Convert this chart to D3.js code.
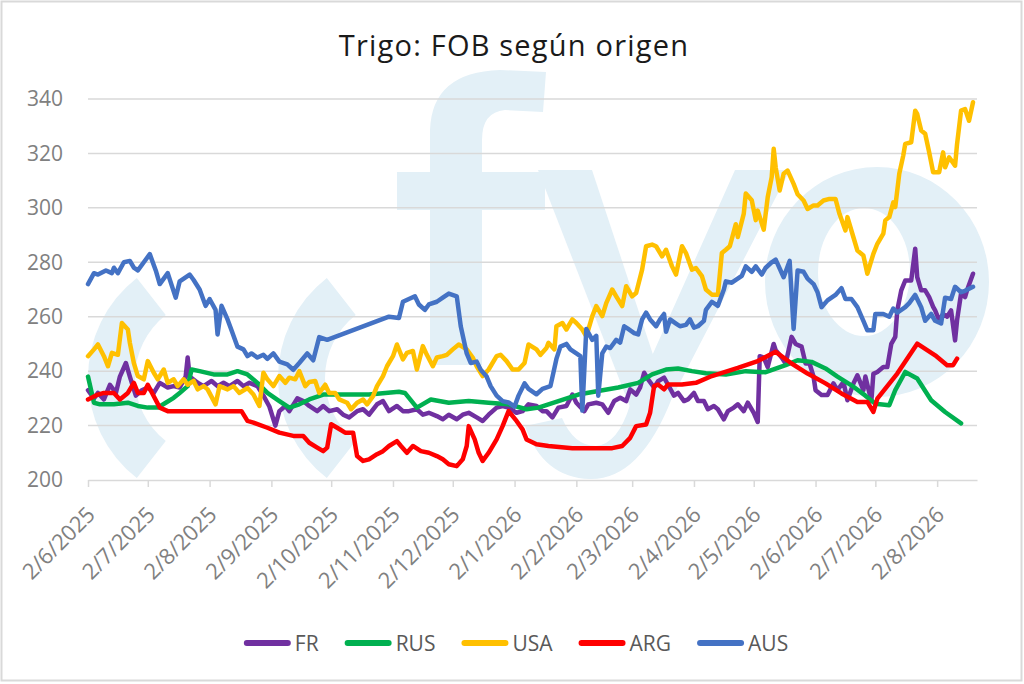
<!DOCTYPE html>
<html>
<head>
<meta charset="utf-8">
<script src="https://cdn.jsdelivr.net/npm/d3@7"></script>
<style>
  body { margin: 0; background: #fff; }
  svg { display: block; font-family: 'Open Sans', sans-serif; }
</style>
</head>
<body>
<div id="chart"></div>
<script>
// values: [days since 2/6/2025, USD/t]
const startDate = '2/6/2025';
const lastDay = 446;
const yTicks = [200, 220, 240, 260, 280, 300, 320, 340];
const xTickLabels = ['2/6/2025', '2/7/2025', '2/8/2025', '2/9/2025', '2/10/2025', '2/11/2025', '2/12/2025',
  '2/1/2026', '2/2/2026', '2/3/2026', '2/4/2026', '2/5/2026', '2/6/2026', '2/7/2026', '2/8/2026'];
const seriesNames = ['FR', 'RUS', 'USA', 'ARG', 'AUS'];

const frData = [[0,233],[3,230],[5,232],[8,229.6],[11,235],[14,232],[16,238],[19,243],[21,238],[24,231],[27,233],
  [30,234],[33,232],[36,235.7],[40,234],[43,234.5],[46,234],[49,238],[50,245],[51,238],[55,235.7],[58,234.5],
  [62,236.4],[65,234.5],[68,235.7],[71,234.5],[75,236.4],[78,234.5],[81,235.7],[85,234.5],[88,231],[91,227],
  [94,220],[96,225.3],[99,227.2],[101,225.3],[105,230],[108,229],[111,227.2],[115,225.3],[118,227.2],[121,225.3],
  [125,226],[128,224],[131,223],[135,225.3],[138,226],[141,224],[145,227.8],[148,229],[151,225.3],[155,227.2],
  [158,225.3],[161,225.3],[165,226],[168,224],[171,224.7],[175,223.5],[178,222.3],[181,224],[185,222.3],[188,224],
  [191,224.7],[195,223],[198,221.7],[201,224],[205,226.6],[208,227.2],[211,226.6],[215,224.7],[218,225.3],
  [221,227.8],[225,227.2],[228,225.3],[230,225.3],[233,223],[236,226.6],[240,227.2],[243,231.4],[245,228.4],
  [249,225.3],[251,227.8],[255,228.4],[258,227.8],[261,224.7],[264,229],[267,230.2],[270,229],[272,233.3],
  [275,231.4],[277,234],[279,239.4],[281,237],[284,234],[286,236.3],[289,237.6],[291,235],[294,231],[296,232],
  [299,229],[301,229.6],[304,232],[306,229],[309,229],[311,226],[314,227.2],[316,226],[319,222.3],[321,225.3],
  [324,226.6],[326,227.8],[329,225.3],[331,228.4],[334,224.7],[336,221.3],[337,245.5],[339,245],[341,241.5],
  [344,250],[345,247.7],[348,245],[350,242.8],[353,252.6],[355,250],[358,249],[360,242.8],[362,242.8],[364,238],
  [365,233],[368,231.2],[371,231.2],[374,235.5],[376,233],[379,236],[381,229.3],[384,235.5],[386,238.5],[389,233],
  [390,238],[393,229],[394,239],[396,239.7],[399,241.5],[401,241.5],[403,250],[405,252.6],[406,262.3],[408,269.7],
  [410,273.3],[413,273.3],[415,285],[416,274.6],[418,269.7],[420,269.7],[422,267.2],[424,263.6],[425,262.3],
  [427,258.7],[429,261],[431,260],[433,262.3],[435,251.3],[436,258.7],[438,268.5],[440,267.2],[441,269.7],[444,275.8]];

const rusData = [[0,238],[3,228.4],[6,227.8],[13,227.8],[20,228.4],[25,227.2],[30,226.6],[35,226.6],[39,228.4],
  [43,230.2],[46,232],[50,234.5],[52,240.6],[56,240],[63,238.8],[70,238.8],[75,240],[80,238.8],[85,235.7],[90,232],
  [96,229],[101,226.6],[106,227.8],[111,229.6],[118,231.4],[128,231.4],[141,231.4],[156,232.4],[159,232],
  [165,226.6],[172,229.6],[181,228.4],[191,229],[201,228.4],[211,227.8],[220,226],[226,226.6],[236,229],
  [246,231.4],[256,232.7],[266,234],[276,235.7],[283,238.8],[290,240.6],[296,241],[303,240],[310,239.2],
  [320,238.8],[330,240],[340,239.6],[350,242.2],[356,244],[363,243.4],[370,241],[376,238],[383,234.8],[390,231],
  [395,228],[402,227.5],[405,233],[410,239.7],[416,237.3],[423,229.3],[430,225],[438,220.8]];

const usaData = [[0,245.5],[3,248],[5,249.8],[8,245.5],[10,241.8],[12,246.7],[15,246],[17,257.7],[20,255.3],
  [21,250.4],[23,243],[25,238.2],[28,237],[30,243.7],[33,239.4],[35,237],[38,240.6],[40,235.7],[43,237],[45,234.5],
  [48,237],[50,235],[53,236.4],[55,233.3],[58,234.5],[60,233.3],[64,227.8],[66,234.5],[70,233.3],[73,234.5],
  [76,232],[80,233.8],[83,231.4],[86,227.2],[88,239.4],[90,237],[93,234.5],[96,238.2],[99,235.7],[101,237.6],
  [104,237],[106,240],[109,234.5],[111,236],[114,236.4],[116,232],[119,235],[121,232],[124,232],[126,229.6],
  [130,228.4],[132,226],[135,228.4],[138,229.6],[140,227.8],[143,230.8],[145,234.5],[148,238.2],[150,241.8],
  [153,245.5],[155,249.8],[158,244.3],[160,246.7],[163,247.4],[165,240.6],[168,249.2],[170,246],[173,241.8],
  [175,245],[178,245.5],[180,246],[183,248],[186,249.8],[190,248],[193,245],[195,241.8],[198,238.2],[201,240.6],
  [205,245.5],[207,246],[210,243.7],[213,240.6],[216,240.6],[219,243],[221,249.8],[225,248],[227,246],[230,248.5],
  [231,250.4],[234,248],[235,256.5],[238,257.7],[240,255.3],[243,259],[245,257.7],[248,255.3],[250,252.8],
  [253,260.2],[255,263.9],[258,260.2],[260,265],[263,270],[265,267.5],[268,263.9],[270,271.2],[273,267.5],
  [275,268.7],[278,277.3],[280,285.9],[283,286.5],[285,285.9],[288,282.2],[290,284.6],[293,278.5],[295,275.5],
  [298,285.9],[300,283.4],[303,277.3],[305,277.9],[308,274.9],[310,270],[313,268.1],[316,268.1],[318,283.4],
  [320,284.6],[322,285.9],[325,294],[326,289.3],[329,297.9],[330,305.3],[333,302.8],[335,295.5],[336,299],
  [339,292],[341,303.9],[343,311.3],[344,321.7],[345,314.9],[347,306.4],[349,312.5],[351,313.7],[354,308.8],
  [356,305],[359,302.7],[361,299.6],[364,300.9],[366,300.9],[369,302.7],[372,303.3],[375,303.3],[377,297.8],
  [380,291.7],[381,296.6],[384,289.2],[386,284.3],[389,282.5],[391,275.8],[394,283.1],[396,286.8],[399,290.5],
  [400,295.4],[402,296.6],[404,302],[405,300.3],[407,312.5],[409,319.2],[410,323.5],[413,324.1],[415,335.7],
  [416,334.5],[418,328.4],[420,327.2],[422,320.4],[424,313.1],[427,313.1],[429,320.4],[430,314.9],[432,318.6],
  [435,315.5],[436,323.5],[438,335.7],[440,336.3],[442,332],[444,338.8]];

const argData = [[0,229.6],[5,231.4],[8,232],[13,232],[16,229.6],[20,232],[23,235.7],[25,232],[28,232],[30,235],
  [33,230.8],[36,226.6],[40,225.3],[77,225.3],[80,221.7],[83,221.1],[90,219.2],[96,217.4],[103,216.2],[108,216.2],
  [111,213.7],[115,211.9],[118,210.6],[120,211.9],[122,220.5],[125,219.2],[129,217.4],[133,217.4],[135,208.8],
  [138,207],[141,207.6],[145,209.5],[148,210.6],[151,212.5],[155,214.3],[157,212.5],[160,210],[163,212.5],
  [167,210.6],[171,210],[175,208.8],[178,207.6],[181,205.8],[185,205.1],[188,207.6],[190,212.5],[191,219.8],
  [194,214.9],[196,210],[198,207],[201,210],[205,214.9],[208,219.8],[211,225.3],[215,221.7],[218,218.6],
  [220,214.9],[225,213.1],[231,212.5],[243,211.7],[263,211.7],[268,212.5],[272,215.5],[275,219.8],[280,220.4],
  [282,224.7],[284,234.5],[286,235.1],[289,233.3],[291,235.1],[298,235.1],[305,235.7],[313,238.2],[326,241.2],
  [336,243.7],[345,247.1],[353,242.8],[361,239.1],[370,235.5],[378,231.8],[386,228.7],[391,228.7],[394,225],
  [396,229.9],[406,239.1],[416,250.1],[425,245.8],[431,242.2],[434,242.2],[436,244.6]];

const ausData = [[0,272],[3,276],[5,275.5],[9,277],[12,276],[13,278],[15,276],[18,280],[21,280.5],[23,278],
  [25,277],[28,280],[31,283],[34,277],[36,272],[40,276],[44,267],[46,273],[51,275.5],[53,273.5],[56,270],[59,264],
  [61,266.5],[64,262.5],[65,253.5],[67,264],[70,259],[72,255],[75,249],[78,248],[80,245.5],[82,246.5],[85,245],
  [88,246],[90,244.5],[93,246.5],[96,243.5],[100,242.5],[103,240.5],[106,243],[110,246.5],[113,244],[116,252.5],
  [120,251.5],[151,260],[156,259.5],[158,265.5],[161,266.5],[164,267.5],[166,264.5],[169,262.5],[171,264.5],
  [175,265.5],[178,267],[181,268.5],[185,267.5],[187,256.5],[190,246.5],[192,243],[195,243.5],[197,240.5],
  [200,238],[202,234.5],[205,231],[208,229],[211,228.5],[214,227],[216,231],[219,235.5],[221,233.5],[225,231.5],
  [228,233.5],[232,234.5],[235,244.5],[237,249],[240,250],[242,248],[245,246.5],[247,245.5],[248,225.5],
  [250,255.5],[253,251.5],[255,253],[256,231],[258,246.5],[260,249],[262,248.5],[265,251.5],[267,250.5],
  [269,256.5],[271,255.5],[274,254],[276,253.5],[278,259],[280,261.5],[282,259],[285,256.5],[287,259],[289,261],
  [290,254.5],[292,259],[295,257.5],[297,256.5],[300,257],[302,259],[304,256],[306,256.5],[309,258.5],[310,262.5],
  [313,265.5],[316,264],[319,270],[320,273],[323,272.5],[325,273.5],[328,275],[330,278.5],[333,276.5],[335,278.5],
  [338,275.5],[340,278],[343,280],[345,281],[349,274.5],[352,280.5],[354,255.5],[356,277],[359,276.5],[361,274],
  [364,272],[366,269],[368,263.5],[371,266],[375,268],[378,270.5],[380,266.5],[383,266.5],[386,263.5],[389,258.5],
  [391,255],[394,255],[395,261],[399,261],[402,260],[404,263],[406,261.5],[410,263.5],[412,265],[415,268],
  [418,263.5],[420,258.5],[423,261],[425,258.5],[428,257.5],[430,267],[433,266.5],[435,271],[438,269],[440,269.5],
  [444,271]];

const allSeries = [frData, rusData, usaData, argData, ausData];
const seriesColors = ['#7030a0', '#00b050', '#ffc000', '#ff0000', '#4472c4'];

displayChart();

function displayChart() {
  const width = 1024;
  const height = 684;
  const plot = { left: 88, right: 977, top: 99, bottom: 480 };
  const parseDate = d3.timeParse('%d/%m/%Y');
  const start = parseDate(startDate);

  const svg = d3.select('#chart').append('svg')
      .attr('width', width)
      .attr('height', height);

  svg.append('rect')
      .attr('x', 1.5)
      .attr('y', 1.5)
      .attr('width', width - 4)
      .attr('height', height - 5)
      .attr('fill', '#fff')
      .attr('stroke', '#d9d9d9')
      .attr('stroke-width', 2);

  displayWatermark(svg);

  const xScale = d3.scaleTime([start, d3.timeDay.offset(start, lastDay)], [plot.left, plot.right]);
  const yScale = d3.scaleLinear([200, 340], [plot.bottom, plot.top]);

  // Title
  svg.append('text')
      .text('Trigo: FOB según origen')
      .attr('x', 514)
      .attr('y', 56)
      .style('text-anchor', 'middle')
      .style('font-size', '29px')
      .style('letter-spacing', '1.2px')
      .style('fill', '#1a1a1a');

  // Gridlines
  svg.append('g')
      .selectAll('line')
      .data(yTicks.slice(1))
      .join('line')
      .attr('x1', plot.left)
      .attr('x2', plot.right)
      .attr('y1', d => yScale(d))
      .attr('y2', d => yScale(d))
      .attr('stroke', '#d9d9d9')
      .attr('stroke-width', 1.5);

  // Y-axis
  const yAxis = d3.axisLeft(yScale).tickValues(yTicks).tickSize(0).tickPadding(25);
  const yg = svg.append('g')
      .attr('transform', `translate(${plot.left}, 0)`)
      .call(yAxis);
  yg.select('.domain').remove();
  yg.selectAll('text')
      .style('font-family', "'Open Sans', sans-serif")
      .style('font-size', '21px')
      .style('fill', '#808080');

  // X-axis
  const fmt = d3.timeFormat('%-d/%-m/%Y');
  const xAxis = d3.axisBottom(xScale)
      .tickValues(xTickLabels.map(parseDate))
      .tickFormat(fmt)
      .tickSizeInner(7)
      .tickSizeOuter(0);
  const xg = svg.append('g')
      .attr('transform', `translate(0, ${plot.bottom})`)
      .call(xAxis);
  xg.select('.domain').attr('stroke', '#d9d9d9').attr('stroke-width', 1.5);
  xg.selectAll('.tick line').attr('stroke', '#d9d9d9').attr('stroke-width', 1.5);
  xg.selectAll('text')
      .attr('x', 0)
      .attr('y', 0)
      .attr('dy', 0)
      .attr('transform', 'translate(8, 36) rotate(-45)')
      .style('text-anchor', 'end')
      .style('font-family', "'Open Sans', sans-serif")
      .style('font-size', '22px')
      .style('fill', '#808080');

  // Lines
  const line = d3.line()
      .x(d => xScale(d3.timeDay.offset(start, d[0])))
      .y(d => yScale(d[1]));

  svg.append('g')
      .selectAll('path')
      .data(allSeries)
      .join('path')
      .attr('d', d => line(d))
      .attr('fill', 'none')
      .attr('stroke', (d, i) => seriesColors[i])
      .attr('stroke-width', 4.5)
      .attr('stroke-linejoin', 'round')
      .attr('stroke-linecap', 'round');

  displayLegend(svg);
}

function displayWatermark(svg) {
  const g = svg.append('g').attr('fill', '#e3f0f7');
  const toRad = deg => deg * Math.PI / 180;
  const arc = d3.arc()
      .innerRadius(80)
      .outerRadius(127)
      .startAngle(toRad(-142))
      .endAngle(toRad(-38));
  // two "(" arcs
  g.append('path').attr('d', arc()).attr('transform', 'translate(215, 378)');
  g.append('path').attr('d', arc()).attr('transform', 'translate(405, 378)');
  // f
  g.append('path').attr('d', 'M430 365 L430 130 Q432 72 500 70 L546 72 L543 112 L505 110 Q482 112 482 140 L482 365 Z');
  g.append('rect').attr('x', 397).attr('y', 172).attr('width', 148).attr('height', 38);
  // y
  g.append('path').attr('d', 'M538 170 L592 170 L668 400 L632 412 Z');
  g.append('path').attr('d', 'M735 170 L790 170 L672 398 Q640 480 590 479 Q543 478 525 426 L562 418 Q574 446 596 446 Q618 444 630 405 Z');
  // o
  g.append('path')
      .attr('fill-rule', 'evenodd')
      .attr('d', 'M765 282 A112 115 0 1 0 989 282 A112 115 0 1 0 765 282 Z M818 272 A46 64 0 1 0 910 272 A46 64 0 1 0 818 272 Z');
}

function displayLegend(svg) {
  const legend = svg.append('g');
  let x = 0;
  seriesNames.forEach((name, i) => {
    const item = legend.append('g').attr('transform', `translate(${x}, 0)`);
    item.append('line')
        .attr('x1', 3)
        .attr('x2', 44)
        .attr('y1', 0)
        .attr('y2', 0)
        .attr('stroke', seriesColors[i])
        .attr('stroke-width', 6)
        .attr('stroke-linecap', 'round');
    const label = item.append('text')
        .text(name)
        .attr('x', 51)
        .attr('y', 0)
        .attr('dy', '0.36em')
        .style('font-size', '21px')
        .style('fill', '#595959');
    x += 51 + label.node().getComputedTextLength() + 26;
  });
  const total = x - 26;
  legend.attr('transform', `translate(${516 - total / 2}, 643)`);
}
</script>
</body>
</html>
